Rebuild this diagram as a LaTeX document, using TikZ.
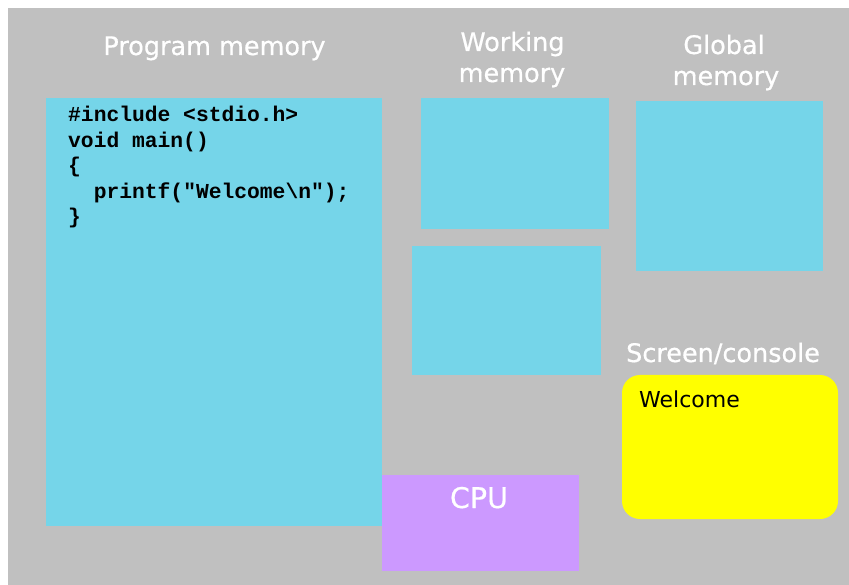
\documentclass[tikz,border=0pt]{standalone}
\usepackage{fontspec}
\setmainfont{DejaVu Sans}
\setmonofont{Liberation Mono}
\newfontfamily\headfont{DejaVu Sans}[FakeBold=0.6]
\definecolor{bggray}{HTML}{C0C0C0}
\definecolor{memcyan}{HTML}{75D5E9}
\definecolor{cpupurple}{HTML}{CC99FF}
\definecolor{scryellow}{HTML}{FFFF00}
\begin{document}
\begin{tikzpicture}[x=1pt,y=-1pt,
  box/.style={fill=#1, draw=none, inner sep=0pt, outer sep=0pt, anchor=north west},
  heading/.style={text=white, font=\headfont\fontsize{25.5}{31}\selectfont, anchor=base, inner sep=0pt},
  code/.style={font=\fontsize{21.3}{25.5}\selectfont\ttfamily\bfseries, anchor=base west, inner sep=0pt}]
\useasboundingbox (0,0) rectangle (849,585);
\fill[white] (0,0) rectangle (849,585);
\node[box=bggray, minimum width=841pt, minimum height=577pt] (bg) at (8,8) {};
% boxes
\node[box=memcyan, minimum width=336pt, minimum height=428pt] (prog) at (46,98) {};
\node[box=memcyan, minimum width=188pt, minimum height=131pt] (work1) at (421,98) {};
\node[box=memcyan, minimum width=189pt, minimum height=129pt] (work2) at (412,246) {};
\node[box=memcyan, minimum width=187pt, minimum height=170pt] (glob) at (636,101) {};
\node[box=cpupurple, minimum width=197pt, minimum height=96pt] (cpu) at (382,475) {};
\node[box=scryellow, rounded corners=18pt, minimum width=216pt, minimum height=144pt] (scr) at (622,375) {};
% headings
\node[heading] (tprog) at (214.5,55) {Program memory};
\node[heading] (twork1) at (512.5,51) {Working};
\node[heading] (twork2) at (512,82) {memory};
\node[heading] (tglob1) at (724,54) {Global};
\node[heading] (tglob2) at (726,85) {memory};
\node[heading] (tscr) at (723,362) {Screen/console};
\node[heading, font=\headfont\fontsize{28.5}{34}\selectfont] (tcpu) at (479,508) {CPU};
\node[anchor=base west, inner sep=0pt, font=\fontsize{22}{26}\selectfont] (twel) at (639,407) {Welcome};
% code
\node[code] (c1) at (68,122) {\#include <stdio.h>};
\node[code] (c2) at (68,147.5) {void main()};
\node[code] (c3) at (68,173) {\{};
\node[code] (c4) at (93.6,198.5) {printf("Welcome\textbackslash n");};
\node[code] (c5) at (68,224) {\}};
\end{tikzpicture}
\end{document}
